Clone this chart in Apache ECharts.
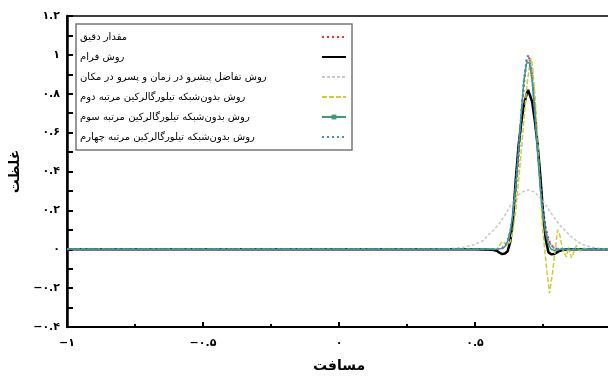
<!DOCTYPE html>
<html>
<head>
<meta charset="utf-8">
<script src="https://cdn.jsdelivr.net/npm/echarts@6/dist/echarts.min.js"></script>
<style>
  html, body { margin: 0; padding: 0; background: #fff; }
  #chart { width: 608px; height: 376px; }
</style>
</head>
<body>
<div id="chart"></div>
<script>
// Series names (legend)
const seriesNames = [
  'مقدار دقیق',
  'روش فرام',
  'روش تفاضل پیشرو در زمان و پسرو در مکان',
  'روش بدون‌شبکه تیلورگالرکین مرتبه دوم',
  'روش بدون‌شبکه تیلورگالرکین مرتبه سوم',
  'روش بدون‌شبکه تیلورگالرکین مرتبه چهارم'
];

// Exact solution
const exactX = [-1, 0.5, 0.58, 0.59, 0.60, 0.61, 0.62, 0.63, 0.64, 0.65, 0.66, 0.67, 0.68, 0.69, 0.697, 0.70, 0.71, 0.72, 0.73, 0.74, 0.75, 0.76, 0.77, 0.78, 0.79, 0.80, 0.82, 1];
const exactY = [0, 0, 0.0003, 0.0015, 0.0054, 0.0149, 0.0371, 0.0826, 0.1645, 0.293, 0.467, 0.667, 0.852, 0.973, 1.0, 0.995, 0.910, 0.745, 0.546, 0.358, 0.210, 0.110, 0.052, 0.022, 0.008, 0.003, 0.0005, 0];

// FRAM scheme
const framX = [-1, 0.5, 0.56, 0.58, 0.59, 0.60, 0.61, 0.62, 0.63, 0.64, 0.65, 0.66, 0.67, 0.68, 0.69, 0.695, 0.70, 0.71, 0.72, 0.73, 0.74, 0.75, 0.76, 0.77, 0.78, 0.79, 0.80, 0.81, 0.82, 0.84, 1];
const framY = [0, 0, -0.002, -0.008, -0.018, -0.025, -0.022, -0.01, 0.04, 0.16, 0.36, 0.53, 0.65, 0.74, 0.80, 0.82, 0.81, 0.76, 0.66, 0.54, 0.38, 0.19, 0.05, -0.015, -0.026, -0.025, -0.017, -0.009, -0.004, 0, 0];

// Forward-time backward-space scheme
const ftbsX = [-1, 0.3, 0.40, 0.45, 0.50, 0.53, 0.55, 0.57, 0.59, 0.61, 0.63, 0.65, 0.67, 0.69, 0.70, 0.72, 0.74, 0.76, 0.78, 0.80, 0.82, 0.84, 0.86, 0.88, 0.90, 0.93, 0.96, 1.0];
const ftbsY = [0, 0, 0.002, 0.008, 0.025, 0.045, 0.075, 0.10, 0.134, 0.175, 0.225, 0.265, 0.292, 0.304, 0.305, 0.293, 0.265, 0.228, 0.185, 0.145, 0.112, 0.083, 0.058, 0.036, 0.022, 0.01, 0.004, 0.001];

// Meshless Taylor-Galerkin, 2nd order
const tg2X = [-1, 0.5, 0.58, 0.59, 0.60, 0.61, 0.62, 0.63, 0.64, 0.65, 0.66, 0.67, 0.68, 0.69, 0.70, 0.706, 0.71, 0.72, 0.73, 0.737, 0.748, 0.756, 0.765, 0.774, 0.785, 0.795, 0.804, 0.812, 0.822, 0.836, 0.843, 0.855, 0.873, 0.885, 0.90, 0.92, 1];
const tg2Y = [0, 0, 0, 0.02, 0.04, 0.03, 0.02, 0.04, 0.10, 0.20, 0.35, 0.50, 0.67, 0.83, 0.94, 0.98, 0.96, 0.80, 0.58, 0.39, 0.11, 0.0, -0.12, -0.227, -0.12, 0.0, 0.10, 0.07, 0.0, -0.04, 0.01, -0.045, 0.02, -0.01, 0.005, 0, 0];

// Meshless Taylor-Galerkin, 3rd order
const tg3X = [-1, 0.5, 0.58, 0.59, 0.60, 0.61, 0.62, 0.63, 0.64, 0.65, 0.66, 0.67, 0.68, 0.69, 0.695, 0.70, 0.71, 0.72, 0.73, 0.74, 0.75, 0.76, 0.77, 0.78, 0.79, 0.80, 0.82, 1];
const tg3Y = [0, 0, 0.0005, 0.002, 0.004, 0.014, 0.04, 0.095, 0.19, 0.33, 0.51, 0.70, 0.87, 0.96, 0.97, 0.96, 0.87, 0.70, 0.50, 0.32, 0.18, 0.08, 0.025, 0.0, -0.006, -0.004, 0, 0];

// Meshless Taylor-Galerkin, 4th order
const tg4X = [-1, 0.5, 0.58, 0.59, 0.60, 0.61, 0.62, 0.63, 0.64, 0.65, 0.66, 0.67, 0.68, 0.69, 0.694, 0.70, 0.71, 0.72, 0.73, 0.74, 0.75, 0.76, 0.77, 0.78, 0.79, 0.80, 0.82, 1];
const tg4Y = [0, 0, 0.0005, 0.002, 0.007, 0.019, 0.045, 0.097, 0.19, 0.325, 0.505, 0.70, 0.875, 0.98, 0.995, 0.98, 0.885, 0.71, 0.51, 0.33, 0.19, 0.095, 0.045, 0.018, 0.007, 0.002, 0, 0];

// Axis ticks and their labels (Persian digits)
const xTicks = [-1, -0.5, 0, 0.5, 1];
const xTickLabels = ['−۱', '−۰.۵', '۰', '۰.۵', '۱'];
const yTicks = [-0.4, -0.2, 0, 0.2, 0.4, 0.6, 0.8, 1, 1.2];
const yTickLabels = ['−۰.۴', '−۰.۲', '۰', '۰.۲', '۰.۴', '۰.۶', '۰.۸', '۱', '۱.۲'];

const xTitle = 'مسافت';
const yTitle = 'غلظت';

const FONT = 'DejaVu Sans';

function pairs(xs, ys) {
  return xs.map((x, i) => [x, ys[i]]);
}
function tickLabel(ticks, labels) {
  return function (v) {
    for (let i = 0; i < ticks.length; i++) {
      if (Math.abs(ticks[i] - v) < 1e-9) return labels[i];
    }
    return '';
  };
}

const styles = [
  { color: '#ff2a2a', width: 2, type: [2, 3], marker: false },
  { color: '#000000', width: 2.5, type: 'solid', marker: false },
  { color: '#c8c8c8', width: 1.5, type: [3, 2], marker: false },
  { color: '#cccc3a', width: 1.5, type: [5, 2], marker: false },
  { color: '#3f9a72', width: 1.5, type: 'solid', marker: true },
  { color: '#3b8fe0', width: 2, type: [2, 3], marker: false }
];
const datasets = [
  pairs(exactX, exactY),
  pairs(framX, framY),
  pairs(ftbsX, ftbsY),
  pairs(tg2X, tg2Y),
  pairs(tg3X, tg3Y),
  pairs(tg4X, tg4Y)
];

const series = seriesNames.map((name, i) => ({
  name: name,
  type: 'line',
  data: datasets[i],
  showSymbol: false,
  symbol: 'rect',
  symbolSize: 4,
  smooth: false,
  animation: false,
  itemStyle: { color: styles[i].color },
  lineStyle: { color: styles[i].color, width: styles[i].width, type: styles[i].type }
}));

// legend entries: only the 3rd-order scheme shows its square marker
const legendData = seriesNames.map((name, i) => ({
  name: name,
  itemStyle: { opacity: styles[i].marker ? 1 : 0 }
}));

const chart = echarts.init(document.getElementById('chart'), null, { renderer: 'canvas' });
chart.setOption({
  animation: false,
  backgroundColor: '#fff',
  grid: {
    left: 67, right: -3, top: 16, bottom: 49,
    outerBoundsMode: 'none',
    containLabel: false,
    show: true, borderColor: '#000', borderWidth: 1.5
  },
  legend: {
    left: 76, top: 24,
    orient: 'vertical',
    align: 'right',
    data: legendData,
    itemWidth: 24, itemHeight: 6, itemGap: 10,
    padding: [8, 5, 8, 4],
    backgroundColor: '#fff',
    borderColor: '#777', borderWidth: 1.5, borderRadius: 0,
    formatter: name => '{t|' + name + '}',
    textStyle: {
      fontFamily: FONT, fontSize: 10, color: '#000',
      rich: { t: { width: 237, height: 10, align: 'left', fontFamily: FONT, fontSize: 10, color: '#000' } }
    }
  },
  xAxis: {
    type: 'value', min: -1, max: 1, interval: 0.5,
    name: xTitle, nameLocation: 'middle', nameGap: 32,
    nameTextStyle: { fontFamily: FONT, fontSize: 14, fontWeight: 'bold', color: '#000' },
    axisLine: { show: true, onZero: false, lineStyle: { color: '#000', width: 2 } },
    axisTick: { show: true, inside: true, length: 5, lineStyle: { color: '#000', width: 2 } },
    minorTick: { show: true, splitNumber: 2, length: 3, lineStyle: { color: '#000', width: 2 } },
    splitLine: { show: false },
    axisLabel: {
      margin: 11, fontFamily: FONT, fontSize: 11, fontWeight: 'bold', color: '#000',
      formatter: tickLabel(xTicks, xTickLabels)
    }
  },
  yAxis: {
    type: 'value', min: -0.4, max: 1.2, interval: 0.2,
    name: yTitle, nameLocation: 'middle', nameGap: 38, nameRotate: 90,
    nameTextStyle: { fontFamily: FONT, fontSize: 14, fontWeight: 'bold', color: '#000' },
    axisLine: { show: true, onZero: false, lineStyle: { color: '#000', width: 2.5 } },
    axisTick: { show: true, inside: true, length: 6, lineStyle: { color: '#000', width: 2 } },
    minorTick: { show: true, splitNumber: 2, length: 6, lineStyle: { color: '#000', width: 2 } },
    splitLine: { show: false },
    axisLabel: {
      margin: 7, fontFamily: FONT, fontSize: 11, fontWeight: 'bold', color: '#000',
      formatter: tickLabel(yTicks, yTickLabels)
    }
  },
  series: series
});
</script>
</body>
</html>
